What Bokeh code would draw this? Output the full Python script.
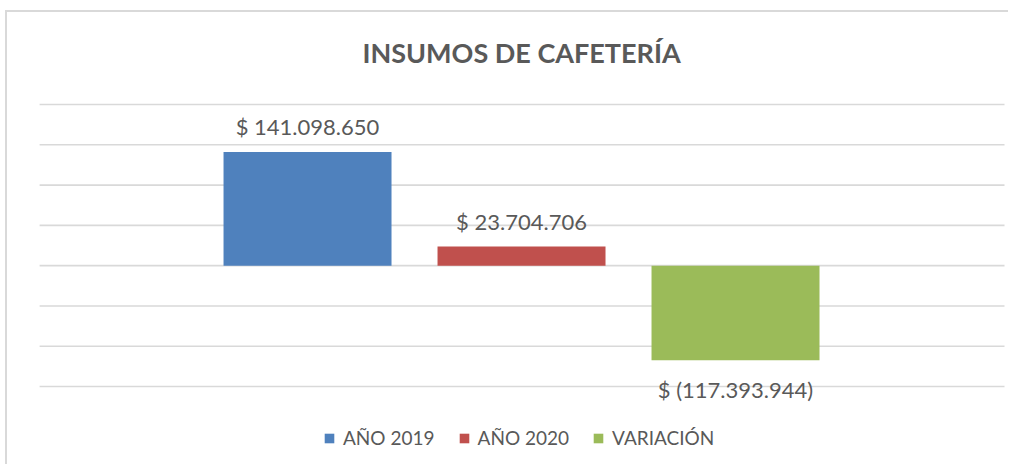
from bokeh.plotting import figure
from bokeh.models import (ColumnDataSource, Range1d, LabelSet, Label, Legend, LegendItem)
from bokeh.core.properties import value
from bokeh.embed import file_html
from bokeh.resources import INLINE

# ---- data ----
series = ["AÑO 2019", "AÑO 2020", "VARIACIÓN"]
values = [141098650, 23704706, -117393944]
colors = ["#4F81BD", "#C0504D", "#9BBB59"]
grid_values = [-150e6, -100e6, -50e6, 0, 50e6, 100e6, 150e6, 200e6]
title_text = "INSUMOS DE CAFETERÍA"


def fmt(v):
    s = f"{abs(v):,}".replace(",", ".")
    return f"$ ({s})" if v < 0 else f"$ {s}"


FONT = "Lato"
GRAY = "#595959"

# whole canvas is the plot area (no side panels)
p = figure(x_range=Range1d(-1.402, 3.285),
           y_range=Range1d(-249.3e6, 314.2e6),
           width=1003, height=454,
           x_axis_location=None, y_axis_location=None,
           output_backend="svg", toolbar_location=None,
           min_border=0, margin=(10, 0, 0, 5))
p.outline_line_color = None
p.xgrid.visible = False
p.ygrid.visible = False
p.styles = {"border-top": "2px solid #d9d9d9", "border-left": "2px solid #d9d9d9"}

# horizontal gridlines spanning the plot width
n = len(grid_values)
p.segment(x0=[-1.252] * n, x1=[3.257] * n, y0=grid_values, y1=grid_values,
          line_color="#d9d9d9", line_width=1.6)

# title
p.add_layout(Label(x=1, y=264e6, text=title_text, text_align="center",
                   text_baseline="middle", text_font=FONT, text_font_size="27px",
                   text_font_style="bold", text_color=GRAY))

items = []
for i, (s, v, c) in enumerate(zip(series, values, colors)):
    src = ColumnDataSource(dict(x=[i], value=[v], label=[fmt(v)]))
    r = p.vbar(x="x", top="value", bottom=0, width=0.785, source=src,
               fill_color=c, line_color=None)
    items.append(LegendItem(label=s, renderers=[r]))
    p.add_layout(LabelSet(x="x", y="value", text="label",
                          y_offset=25 if v >= 0 else -29,
                          source=src, text_align="center", text_baseline="middle",
                          text_font=value(FONT), text_font_size=value("22px"),
                          text_color=value(GRAY)))

legend = Legend(items=items, orientation="horizontal", location=(316, 17),
                glyph_width=12, glyph_height=12, label_standoff=8, spacing=23,
                label_text_font=FONT, label_text_font_size="19px",
                label_text_color=GRAY, padding=0, margin=0,
                border_line_color=None, background_fill_alpha=0)
p.add_layout(legend, "center")

open("out.html", "w").write(file_html(p, INLINE))
